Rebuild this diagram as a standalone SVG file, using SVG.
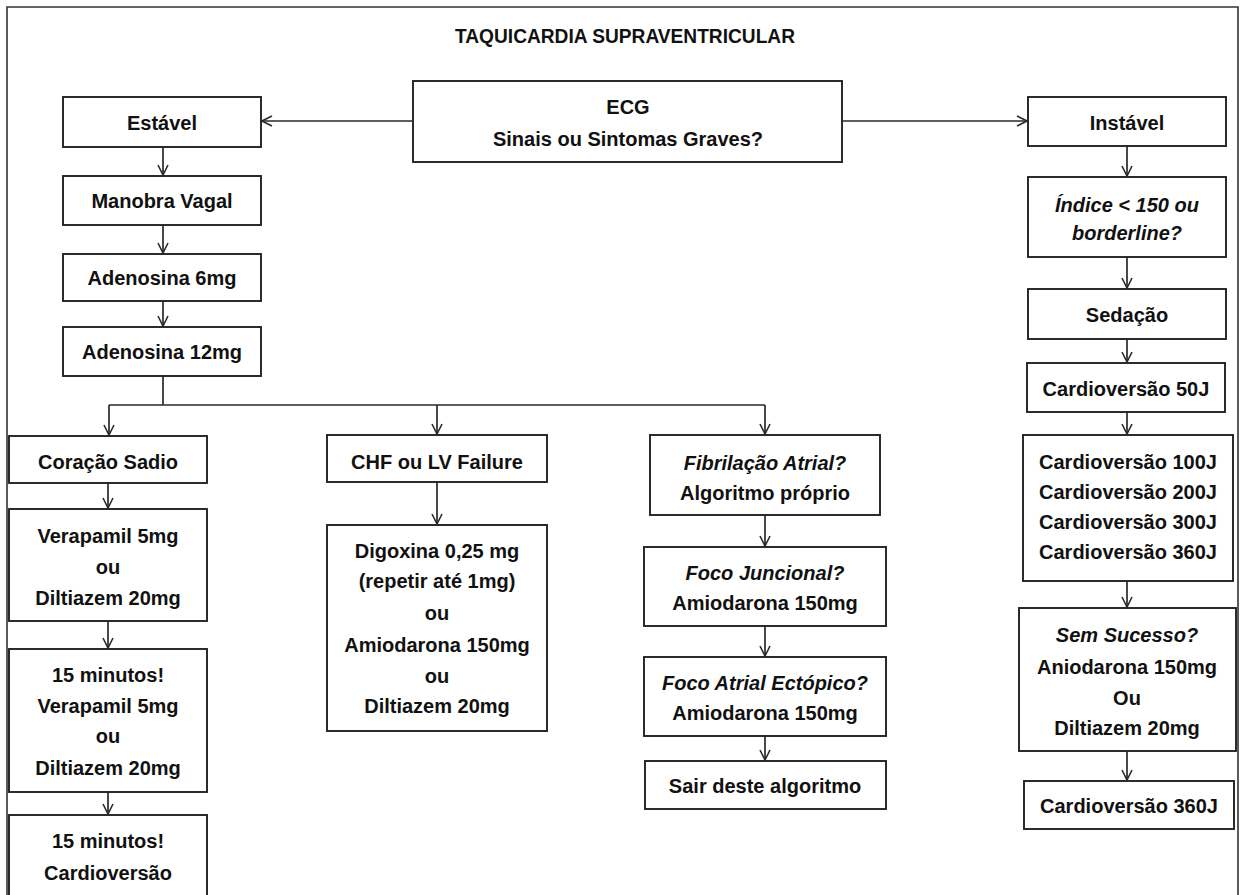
<svg xmlns="http://www.w3.org/2000/svg" width="1242" height="895" viewBox="0 0 1242 895">
  <defs>
    <style>
      .box { fill: #ffffff; stroke: #222222; stroke-width: 1.9; }
      .frame { fill: none; stroke: #333333; stroke-width: 1.6; }
      .wire { fill: none; stroke: #2a2a2a; stroke-width: 1.7; }
      .arrow { fill: none; stroke: #2a2a2a; stroke-width: 1.7; marker-end: url(#open-head); }
      text { font-family: "Liberation Sans", Arial, sans-serif; font-size: 20px; font-weight: bold; fill: #111111; text-anchor: middle; }
      .it { font-style: italic; }
      .title { font-size: 20px; }
    </style>
    <marker id="open-head" viewBox="0 0 12 12" refX="11" refY="6" markerWidth="12" markerHeight="12" markerUnits="userSpaceOnUse" orient="auto">
      <path d="M1,1 L11,6 L1,11" fill="none" stroke="#2a2a2a" stroke-width="1.6"/>
    </marker>
  </defs>

  <rect x="0" y="0" width="1242" height="895" fill="#ffffff"/>

  <!-- page frame (open at the bottom) -->
  <path class="frame" d="M7,900 L7,7 L1238,7 L1238,900"/>

  <text class="title" x="625" y="43" textLength="340" lengthAdjust="spacingAndGlyphs">TAQUICARDIA SUPRAVENTRICULAR</text>

  <!-- connectors -->
  <g id="connectors">
    <line class="arrow" x1="413" y1="121" x2="262" y2="121"/>
    <line class="arrow" x1="842" y1="121" x2="1027" y2="121"/>

    <line class="arrow" x1="163" y1="147" x2="163" y2="175"/>
    <line class="arrow" x1="163" y1="225" x2="163" y2="253"/>
    <line class="arrow" x1="163" y1="301" x2="163" y2="326"/>
    <polyline class="wire" points="163,376 163,405"/>
    <polyline class="wire" points="109,405 765,405"/>
    <line class="arrow" x1="109" y1="405" x2="109" y2="435"/>
    <line class="arrow" x1="437" y1="405" x2="437" y2="434"/>
    <line class="arrow" x1="765" y1="405" x2="765" y2="434"/>

    <line class="arrow" x1="108" y1="483" x2="108" y2="508"/>
    <line class="arrow" x1="108" y1="621" x2="108" y2="648"/>
    <line class="arrow" x1="108" y1="792" x2="108" y2="814"/>

    <line class="arrow" x1="437" y1="482" x2="437" y2="524"/>

    <line class="arrow" x1="765" y1="515" x2="765" y2="546"/>
    <line class="arrow" x1="765" y1="626" x2="765" y2="656"/>
    <line class="arrow" x1="765" y1="736" x2="765" y2="760"/>

    <line class="arrow" x1="1127" y1="146" x2="1127" y2="176"/>
    <line class="arrow" x1="1127" y1="257" x2="1127" y2="288"/>
    <line class="arrow" x1="1127" y1="339" x2="1127" y2="362"/>
    <line class="arrow" x1="1127" y1="412" x2="1127" y2="434"/>
    <line class="arrow" x1="1127" y1="581" x2="1127" y2="607"/>
    <line class="arrow" x1="1127" y1="751" x2="1127" y2="780"/>
  </g>

  <!-- top decision -->
  <g id="ecg">
    <rect class="box" x="413" y="81" width="429" height="81"/>
    <text x="628" y="114">ECG</text>
    <text x="628" y="146">Sinais ou Sintomas Graves?</text>
  </g>

  <!-- stable branch -->
  <g id="estavel">
    <rect class="box" x="63" y="97" width="198" height="50"/>
    <text x="162" y="130">Estável</text>
  </g>
  <g id="manobra-vagal">
    <rect class="box" x="63" y="176" width="198" height="49"/>
    <text x="162" y="208">Manobra Vagal</text>
  </g>
  <g id="adenosina-6">
    <rect class="box" x="63" y="254" width="198" height="47"/>
    <text x="162" y="285">Adenosina 6mg</text>
  </g>
  <g id="adenosina-12">
    <rect class="box" x="63" y="327" width="198" height="49"/>
    <text x="162" y="359">Adenosina 12mg</text>
  </g>

  <!-- healthy heart -->
  <g id="coracao-sadio">
    <rect class="box" x="9" y="436" width="198" height="47"/>
    <text x="108" y="469">Coração Sadio</text>
  </g>
  <g id="verapamil">
    <rect class="box" x="9" y="509" width="198" height="112"/>
    <text x="108" y="543">Verapamil 5mg</text>
    <text x="108" y="574">ou</text>
    <text x="108" y="605">Diltiazem 20mg</text>
  </g>
  <g id="repetir-15min">
    <rect class="box" x="9" y="649" width="198" height="143"/>
    <text x="108" y="682">15 minutos!</text>
    <text x="108" y="713">Verapamil 5mg</text>
    <text x="108" y="743">ou</text>
    <text x="108" y="775">Diltiazem 20mg</text>
  </g>
  <g id="cardioversao-15min">
    <rect class="box" x="9" y="815" width="198" height="90"/>
    <text x="108" y="848">15 minutos!</text>
    <text x="108" y="880">Cardioversão</text>
  </g>

  <!-- heart failure -->
  <g id="chf">
    <rect class="box" x="327" y="435" width="220" height="47"/>
    <text x="437" y="469">CHF ou LV Failure</text>
  </g>
  <g id="digoxina">
    <rect class="box" x="327" y="525" width="220" height="206"/>
    <text x="437" y="558">Digoxina 0,25 mg</text>
    <text x="437" y="588">(repetir até 1mg)</text>
    <text x="437" y="620">ou</text>
    <text x="437" y="652">Amiodarona 150mg</text>
    <text x="437" y="683">ou</text>
    <text x="437" y="713">Diltiazem 20mg</text>
  </g>

  <!-- rhythm specific -->
  <g id="fibrilacao">
    <rect class="box" x="650" y="435" width="230" height="80"/>
    <text class="it" x="765" y="470">Fibrilação Atrial?</text>
    <text x="765" y="500">Algoritmo próprio</text>
  </g>
  <g id="foco-juncional">
    <rect class="box" x="644" y="547" width="242" height="79"/>
    <text class="it" x="765" y="580">Foco Juncional?</text>
    <text x="765" y="610">Amiodarona 150mg</text>
  </g>
  <g id="foco-atrial">
    <rect class="box" x="644" y="657" width="242" height="79"/>
    <text class="it" x="765" y="690">Foco Atrial Ectópico?</text>
    <text x="765" y="720">Amiodarona 150mg</text>
  </g>
  <g id="sair">
    <rect class="box" x="645" y="761" width="241" height="48"/>
    <text x="765" y="793">Sair deste algoritmo</text>
  </g>

  <!-- unstable branch -->
  <g id="instavel">
    <rect class="box" x="1028" y="97" width="198" height="49"/>
    <text x="1127" y="130">Instável</text>
  </g>
  <g id="indice">
    <rect class="box" x="1028" y="177" width="198" height="80"/>
    <text class="it" x="1127" y="212">Índice &lt; 150 ou</text>
    <text class="it" x="1127" y="240">borderline?</text>
  </g>
  <g id="sedacao">
    <rect class="box" x="1028" y="289" width="198" height="50"/>
    <text x="1127" y="322">Sedação</text>
  </g>
  <g id="cardioversao-50">
    <rect class="box" x="1027" y="363" width="198" height="49"/>
    <text x="1126" y="396">Cardioversão 50J</text>
  </g>
  <g id="cardioversao-escalonada">
    <rect class="box" x="1023" y="435" width="210" height="146"/>
    <text x="1128" y="469">Cardioversão 100J</text>
    <text x="1128" y="499">Cardioversão 200J</text>
    <text x="1128" y="529">Cardioversão 300J</text>
    <text x="1128" y="559">Cardioversão 360J</text>
  </g>
  <g id="sem-sucesso">
    <rect class="box" x="1019" y="608" width="217" height="143"/>
    <text class="it" x="1127" y="642">Sem Sucesso?</text>
    <text x="1127" y="674">Aniodarona 150mg</text>
    <text x="1127" y="705">Ou</text>
    <text x="1127" y="735">Diltiazem 20mg</text>
  </g>
  <g id="cardioversao-360">
    <rect class="box" x="1024" y="781" width="210" height="48"/>
    <text x="1129" y="813">Cardioversão 360J</text>
  </g>
</svg>
